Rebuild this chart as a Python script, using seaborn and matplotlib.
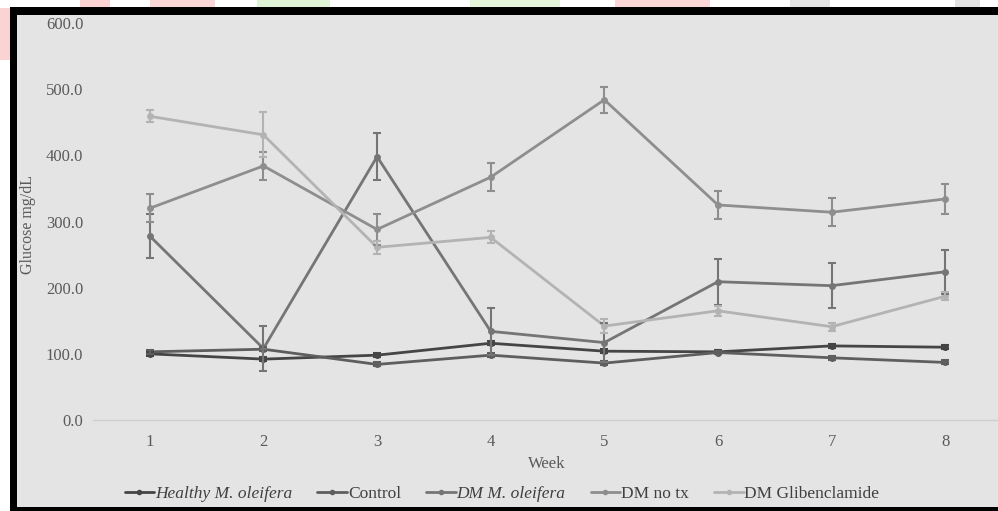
import matplotlib
matplotlib.use("Agg")
import matplotlib.pyplot as plt
import matplotlib.patches as mpatches
from matplotlib.lines import Line2D
import seaborn as sns
import numpy as np
import pandas as pd

weeks = [1, 2, 3, 4, 5, 6, 7, 8]
series_names = ["Healthy M. oleifera", "Control", "DM M. oleifera", "DM no tx", "DM Glibenclamide"]
healthy = [100, 92, 98, 116, 104, 103, 112, 110]
healthy_err = [3, 3, 3, 3, 3, 3, 3, 3]
control = [103, 107, 84, 98, 86, 102, 94, 87]
control_err = [3, 3, 3, 3, 3, 3, 3, 3]
dm_mo = [278, 108, 398, 134, 117, 209, 203, 224]
dm_mo_err = [33, 34, 35, 36, 30, 35, 34, 33]
dm_notx = [320, 384, 288, 367, 484, 325, 314, 334]
dm_notx_err = [21, 21, 24, 21, 20, 21, 21, 22]
dm_glib = [459, 431, 261, 276, 142, 165, 141, 187]
dm_glib_err = [9, 34, 10, 9, 10, 8, 6, 6]

values = [healthy, control, dm_mo, dm_notx, dm_glib]
errors = [healthy_err, control_err, dm_mo_err, dm_notx_err, dm_glib_err]
colors = ["#454545", "#5e5e5e", "#757575", "#8e8e8e", "#b3b3b3"]
italic = [True, False, True, False, False]

rows = []
for name, vals, errs in zip(series_names, values, errors):
    for w, v, e in zip(weeks, vals, errs):
        rows.append({"Week": w, "Glucose": v, "err": e, "Group": name})
df = pd.DataFrame(rows)

sns.set_theme(style="white")
plt.rcParams['font.family'] = ['Liberation Serif', 'DejaVu Serif']

fig = plt.figure(figsize=(9.98, 5.11), dpi=100)
fig.patch.set_facecolor("white")
W, H = 998, 511

def rect(x0, y0, w, h, c, z):
    # pixel coordinates, y0 from top
    fig.patches.append(mpatches.Rectangle((x0 / W, 1 - (y0 + h) / H), w / W, h / H,
                                          transform=fig.transFigure, facecolor=c,
                                          edgecolor="none", zorder=z))

# faint watermark blobs around the frame
for x0, y0, w0, h0, c in [(0, 8, 10, 52, "#fbd3d3"), (80, 0, 30, 7, "#fbd3d3"),
                          (150, 0, 65, 7, "#fbd6d6"), (257, 0, 73, 7, "#dff3d6"),
                          (470, 0, 90, 7, "#e3f4da"), (615, 0, 95, 7, "#fbd6d6"),
                          (790, 0, 40, 7, "#e2e2e2"), (955, 0, 25, 7, "#e2e2e2")]:
    rect(x0, y0, w0, h0, c, -9)
# gray panel and black frame
rect(17, 15, W - 17, 492, "#e4e4e4", -10)
rect(10, 7, W - 10, 8, "black", -5)
rect(10, 7, 7, H - 7, "black", -5)
rect(10, 507, W - 10, 4, "black", -5)

ax = fig.add_axes([93 / W, 1 - 420 / H, (W - 93) / W, (420 - 23) / H])
ax.set_facecolor("none")

palette = dict(zip(series_names, colors))
sns.lineplot(data=df, x="Week", y="Glucose", hue="Group", palette=palette, hue_order=series_names,
             marker="o", markersize=5, markeredgewidth=0, linewidth=2, ax=ax, legend=False,
             errorbar=None, sort=False)
for name, c in zip(series_names, colors):
    sub = df[df["Group"] == name]
    ax.errorbar(sub["Week"], sub["Glucose"], yerr=sub["err"], fmt="none", ecolor=c,
                elinewidth=1.5, capsize=3, capthick=1.5, zorder=3)

ax.set_xlim(0.5, 8.5 - 4 / 113.6)
ax.set_ylim(0, 600)
ax.set_xticks(weeks)
ax.set_xticklabels([str(w) for w in weeks])
ax.set_yticks([0, 100, 200, 300, 400, 500, 600])
ax.set_yticklabels([f"{v:.1f}" for v in [0, 100, 200, 300, 400, 500, 600]])
for s in ["top", "right", "left"]:
    ax.spines[s].set_visible(False)
ax.spines["bottom"].set_color("#cfcfcf")
ax.spines["bottom"].set_linewidth(1)
ax.tick_params(axis="both", length=0, colors="#5a5a5a", labelsize=12)
ax.tick_params(axis="x", pad=10)
ax.tick_params(axis="y", pad=7)
ax.set_xlabel("")
ax.set_ylabel("")

fig.text(28 / W, 1 - 224 / H, "Glucose mg/dL", rotation=90, ha="center", va="center",
         fontsize=11.5, color="#5a5a5a")
fig.text(547 / W, 1 - 464 / H, "Week", ha="center", va="center", fontsize=12, color="#5a5a5a")

handles = [Line2D([0], [0], color=c, lw=2, marker="o", markersize=4, markeredgewidth=0) for c in colors]
leg = fig.legend(handles, series_names, loc="center", bbox_to_anchor=(502 / W, 1 - 494 / H),
                 ncol=5, frameon=False, fontsize=12.5, handlelength=1.7, handletextpad=0.05,
                 columnspacing=1.45, borderaxespad=0, borderpad=0)
for t, it in zip(leg.get_texts(), italic):
    t.set_color("#404040")
    if it:
        t.set_fontstyle("italic")

fig.savefig("out.png", dpi=100, facecolor=fig.get_facecolor())
